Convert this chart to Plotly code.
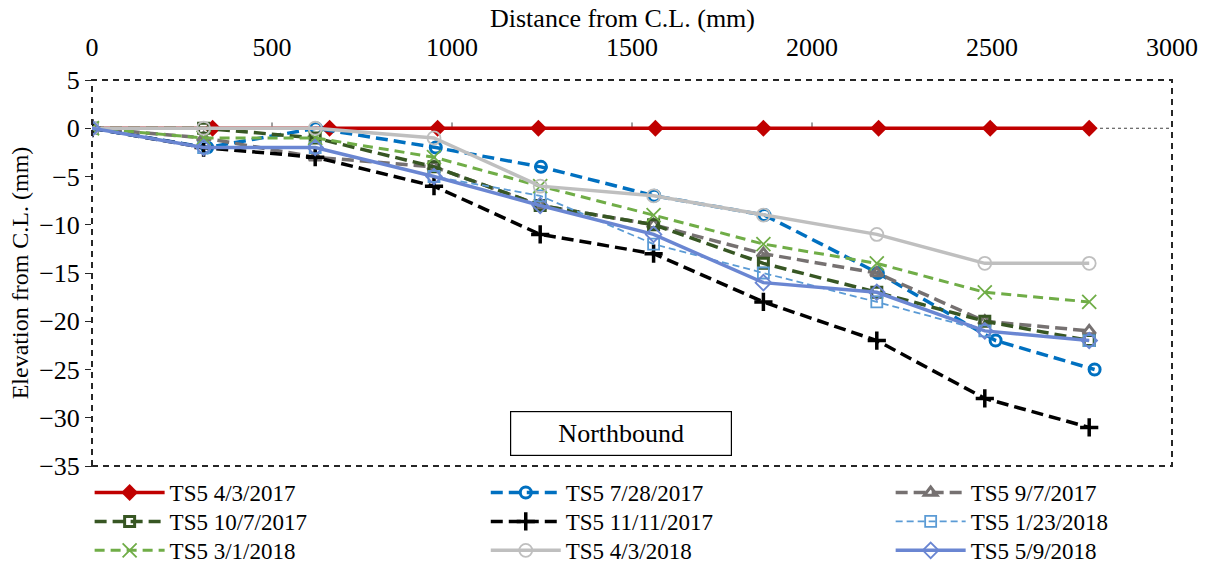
import plotly.graph_objects as go

# Distances from centre line (mm)
x_red = [0, 335, 660, 960, 1240, 1565, 1865, 2185, 2495, 2770]
x_common = [0, 310, 620, 950, 1245, 1560, 1865, 2180, 2480, 2770]
x_blue = [0, 320, 622, 955, 1247, 1562, 1868, 2183, 2510, 2785]

# Elevations (mm)
ts_2017_04_03 = [0, 0, 0, 0, 0, 0, 0, 0, 0, 0]
ts_2017_07_28 = [0, -2, 0, -2, -4, -7, -9, -15, -22, -25]
ts_2017_09_07 = [0, -1, -3, -4, -8, -10, -13, -15, -20, -21]
ts_2017_10_07 = [0, 0, -1, -4, -8, -10, -14, -17, -20, -22]
ts_2017_11_11 = [0, -2, -3, -6, -11, -13, -18, -22, -28, -31]
ts_2018_01_23 = [0, -2, -2, -5, -7, -12, -15, -18, -21, -22]
ts_2018_03_01 = [0, -1, -1, -3, -6, -9, -12, -14, -17, -18]
ts_2018_04_03 = [0, 0, 0, -1, -6, -7, -9, -11, -14, -14]
ts_2018_05_09 = [0, -2, -2, -5, -8, -11, -16, -17, -21, -22]

x_ticks = [0, 500, 1000, 1500, 2000, 2500, 3000]
y_ticks = [5, 0, -5, -10, -15, -20, -25, -30, -35]

FONT = "Liberation Serif, Times New Roman, serif"

fig = go.Figure()

# name, x, y, colour, dash, width, symbol, size, marker line width, column, row
series = [
    ("TS5 4/3/2017", x_red, ts_2017_04_03, "#C00000", "solid", 3.5, "diamond", 13, 0, 0, 0),
    ("TS5 7/28/2017", x_blue, ts_2017_07_28, "#0070C0", "12px,6px", 3.5, "circle-open", 11, 3, 1, 0),
    ("TS5 9/7/2017", x_common, ts_2017_09_07, "#767171", "12px,6px", 3.5, "triangle-up-open", 11, 3, 2, 0),
    ("TS5 10/7/2017", x_common, ts_2017_10_07, "#375623", "12px,6px", 3.5, "square-open", 10, 3, 0, 1),
    ("TS5 11/11/2017", x_common, ts_2017_11_11, "#000000", "12px,6px", 3.5, "cross-thin-open", 13, 3.5, 1, 1),
    ("TS5 1/23/2018", x_common, ts_2018_01_23, "#5B9BD5", "7px,4px", 1.8, "square-open", 11, 1.8, 2, 1),
    ("TS5 3/1/2018", x_common, ts_2018_03_01, "#70AD47", "10px,6px", 3, "x-thin-open", 14, 1.8, 0, 2),
    ("TS5 4/3/2018", x_common, ts_2018_04_03, "#BFBFBF", "solid", 3.5, "circle-open", 13, 1.8, 1, 2),
    ("TS5 5/9/2018", x_common, ts_2018_05_09, "#6A86D2", "solid", 3.5, "diamond-open", 12, 1.8, 2, 2),
]

col_x = [-0.0022, 0.3646, 0.7395]
row_y = [-0.013, -0.088, -0.163]

legends = {}
for i, (name, xs, ys, color, dash, lw, sym, msize, mlw, col, row) in enumerate(series):
    leg = "legend" if i == 0 else f"legend{i + 1}"
    fig.add_trace(go.Scatter(
        x=xs, y=ys, name=name, mode="lines+markers", legend=leg,
        line=dict(color=color, width=lw, dash=dash),
        marker=dict(symbol=sym, size=msize, color=color,
                    line=dict(color=color, width=mlw)),
    ))
    legends[leg] = dict(
        x=col_x[col], y=row_y[row], xanchor="left", yanchor="top",
        font=dict(family=FONT, size=23, color="black"),
        bgcolor="rgba(0,0,0,0)", itemwidth=70, orientation="v",
        itemclick=False, itemdoubleclick=False,
    )

# horizontal axis line at y = 0 (dotted)
fig.add_shape(type="line", xref="x", yref="y", x0=0, x1=3000, y0=0, y1=0,
              line=dict(color="#404040", width=1, dash="dot"), layer="below")
for tx in x_ticks[1:-1]:
    fig.add_shape(type="line", xref="x", yref="y", x0=tx, x1=tx, y0=0, y1=0.6,
                  line=dict(color="#404040", width=1), layer="below")

# dashed plot border
fig.add_shape(type="rect", xref="paper", yref="paper", x0=0, x1=1, y0=0, y1=1,
              line=dict(color="#262626", width=2, dash="6px,5px"), layer="above")

fig.add_annotation(xref="paper", yref="paper", x=0.49, y=0.085,
                   xanchor="center", yanchor="middle",
                   text="Northbound", showarrow=False,
                   font=dict(family=FONT, size=26, color="black"),
                   bordercolor="black", borderwidth=1.2, width=218, height=41,
                   bgcolor="white")

# top axis title
fig.add_annotation(xref="paper", yref="paper", x=0.491, y=1.1606,
                   text="Distance from C.L. (mm)", showarrow=False,
                   xanchor="center", yanchor="middle",
                   font=dict(family=FONT, size=26, color="black"))

fig.update_layout(
    width=1206, height=563,
    margin=dict(l=92, r=34, t=80, b=97, autoexpand=False),
    paper_bgcolor="white", plot_bgcolor="white",
    font=dict(family=FONT, size=26, color="black"),
    showlegend=True,
    hovermode=False,
    xaxis=dict(range=[0, 3000], side="top", tickvals=x_ticks,
               showgrid=False, zeroline=False, showline=False,
               ticks="outside", ticklen=13, tickcolor="rgba(0,0,0,0)",
               tickfont=dict(family=FONT, size=26), automargin=False),
    yaxis=dict(range=[-35, 5], tickvals=y_ticks,
               showgrid=False, zeroline=False, showline=False,
               ticks="outside", ticklen=6, tickcolor="#262626",
               tickfont=dict(family=FONT, size=26), automargin=False,
               title=dict(text="Elevation from C.L. (mm)", standoff=3,
                          font=dict(family=FONT, size=24))),
    **legends,
)

fig.write_html("out.html", config={"displayModeBar": False},
               post_script="document.body.style.margin='0px';")
